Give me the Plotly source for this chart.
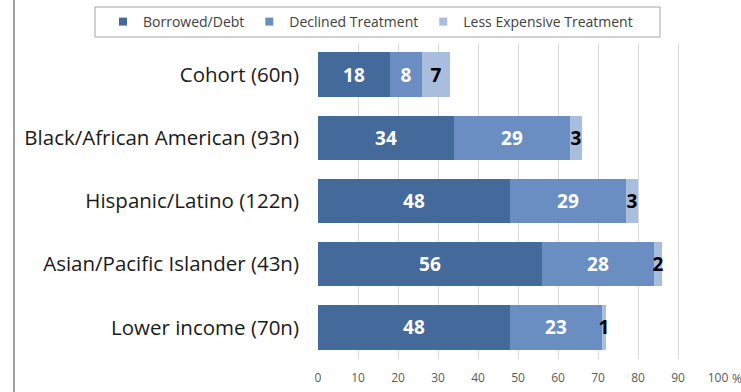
import plotly.graph_objects as go

categories = ["Cohort (60n)", "Black/African American (93n)", "Hispanic/Latino (122n)",
              "Asian/Pacific Islander (43n)", "Lower income (70n)"]
borrowed = [18, 34, 48, 56, 48]
declined = [8, 29, 29, 28, 23]
less_exp = [7, 3, 3, 2, 1]
series_names = ["Borrowed/Debt", "Declined Treatment", "Less Expensive Treatment"]
colors = ["#44699B", "#6A8EC2", "#A9BDDF"]
text_colors = ["white", "white", "black"]
x_ticks = [0, 10, 20, 30, 40, 50, 60, 70, 80, 90, 100]

FONT = "Open Sans"
W, H = 741, 392
ML, MR, MT, MB = 318, 23, 43, 33
PW, PH = W - ML - MR, H - MT - MB


def px_x(px):
    return (px - ML) / PW


def px_y(py):
    return (H - MB - py) / PH


fig = go.Figure()
for name, vals, col, tc in zip(series_names, [borrowed, declined, less_exp], colors, text_colors):
    fig.add_trace(go.Bar(
        y=categories, x=vals, orientation="h", name=name,
        marker=dict(color=col, line=dict(width=0)),
        text=[str(v) for v in vals], textposition="inside", insidetextanchor="middle",
        constraintext="none", cliponaxis=False,
        textfont=dict(family=FONT, size=19, color=tc, weight="bold"),
        showlegend=False, width=0.70,
    ))
    fig.add_trace(go.Scatter(
        x=[None], y=[None], mode="markers", name=name,
        marker=dict(symbol="square", size=8, color=col),
        showlegend=True,
    ))

fig.update_layout(
    width=W, height=H,
    margin=dict(l=ML, r=MR, t=MT, b=MB, autoexpand=False),
    barmode="stack",
    plot_bgcolor="white", paper_bgcolor="white",
    font=dict(family=FONT, color="#222222"),
    xaxis=dict(range=[0, 100], tickvals=x_ticks, showgrid=True, gridcolor="#D9D9D9",
               gridwidth=1, zeroline=False, showline=False,
               tickfont=dict(size=12, color="#595959"), ticks="outside", ticklen=8,
               tickcolor="rgba(0,0,0,0)"),
    yaxis=dict(autorange="reversed", tickfont=dict(size=20.5, color="#1a1a1a"),
               showgrid=False, zeroline=False, showline=False, ticklabelstandoff=18),
    legend=dict(orientation="h", x=px_x(103), xanchor="left", y=px_y(22), yanchor="middle",
                borderwidth=0, bgcolor="rgba(0,0,0,0)",
                font=dict(size=14, color="#404040"), itemwidth=30,
                traceorder="normal"),
)
fig.add_annotation(x=1.0, y=0, xref="paper", yref="paper", text="%", showarrow=False,
                   xanchor="left", yanchor="top", xshift=12, yshift=-9,
                   font=dict(size=12, color="#595959"))
# legend frame
fig.add_shape(type="rect", xref="paper", yref="paper",
              x0=px_x(95), x1=px_x(660), y0=px_y(37), y1=px_y(7),
              line=dict(color="#A6A6A6", width=1), fillcolor="white", layer="above")
# left border line
fig.add_shape(type="line", xref="paper", yref="paper", x0=px_x(14), x1=px_x(14),
              y0=px_y(H), y1=px_y(0), line=dict(color="#A0A0A0", width=2))
fig.write_html("out.html")
